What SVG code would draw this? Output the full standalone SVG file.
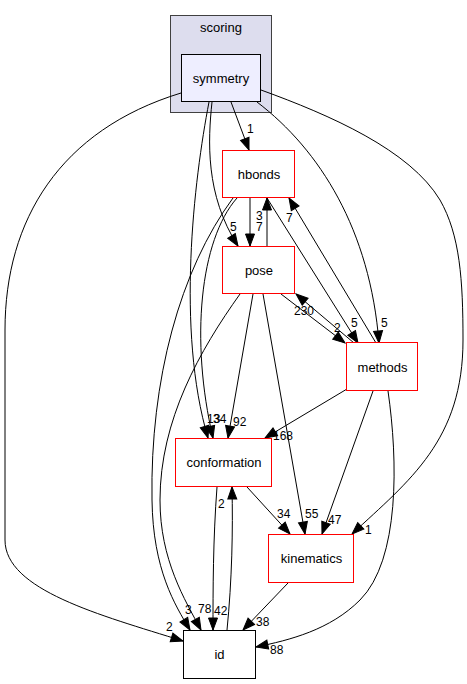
<svg xmlns="http://www.w3.org/2000/svg" width="467" height="684" viewBox="0 0 467 684">
<style>
text{font-family:"Liberation Sans",Arial,sans-serif;fill:#000}
.nl{font-size:13px;text-anchor:middle}
.el{font-size:12px}
.e{fill:none;stroke:#000;stroke-width:1}
.red{fill:#fff;stroke:#ff0000;stroke-width:1}
.blk{fill:#fff;stroke:#000;stroke-width:1}
</style>
<defs>
<marker id="ah" markerUnits="userSpaceOnUse" markerWidth="13" markerHeight="10" refX="12" refY="4.5" orient="auto" overflow="visible">
<path d="M0,0 L12,4.5 L0,9 z" fill="#000" stroke="#000" stroke-width="1"/>
</marker>
</defs>
<g id="cluster_scoring">
<rect x="170.5" y="15.5" width="101" height="97" fill="#ddddee" stroke="#404040" stroke-width="1"/>
<text class="nl" x="221" y="32">scoring</text>
</g>
<g id="edges">
<path class="e" marker-end="url(#ah)" d="M231,102 L249,150"/>
<text class="el" x="247" y="133">1</text>
<path class="e" marker-end="url(#ah)" d="M212,102 C208,140 205,195 238,246"/>
<text class="el" x="230" y="231">5</text>
<path class="e" marker-end="url(#ah)" d="M209,102 C194,180 176,330 208,438"/>
<text class="el" x="207" y="423">13</text>
<path class="e" marker-end="url(#ah)" d="M237,198 C200,240 190,340 213,438"/>
<text class="el" x="213" y="423">34</text>
<path class="e" marker-end="url(#ah)" d="M233,198 C180,270 150,380 152,500 C153,570 175,605 190,630"/>
<text class="el" x="185" y="614">3</text>
<path class="e" marker-end="url(#ah)" d="M240,294 C200,350 160,420 160,500 C160,560 185,600 201,630"/>
<text class="el" x="198" y="613">78</text>
<path class="e" marker-end="url(#ah)" d="M253,294 L228,438"/>
<text class="el" x="233" y="426">92</text>
<path class="e" marker-end="url(#ah)" d="M263,294 L305,534"/>
<text class="el" x="305" y="518">55</text>
<path class="e" marker-end="url(#ah)" d="M281,294 L345,343"/>
<text class="el" x="334" y="332">2</text>
<path class="e" marker-end="url(#ah)" d="M354,343 L296,294"/>
<text class="el" x="294" y="315">230</text>
<path class="e" marker-end="url(#ah)" d="M267,198 L358,343"/>
<text class="el" x="351" y="327">5</text>
<path class="e" marker-end="url(#ah)" d="M376,343 L289,198"/>
<text class="el" x="286" y="222">7</text>
<path class="e" marker-end="url(#ah)" d="M267,246 L267,198"/>
<text class="el" x="256" y="220">3</text>
<path class="e" marker-end="url(#ah)" d="M250,198 L250,246"/>
<text class="el" x="256" y="231">7</text>
<path class="e" marker-end="url(#ah)" d="M257,102 C320,150 370,230 379,343"/>
<text class="el" x="381" y="327">5</text>
<path class="e" marker-end="url(#ah)" d="M261,90 C330,115 410,150 440,200 C460,235 463,280 463,340 C463,440 410,480 352,534"/>
<text class="el" x="365" y="534">1</text>
<path class="e" marker-end="url(#ah)" d="M181,93 C60,130 5,220 5,330 L5,540 C5,590 100,615 183,641"/>
<text class="el" x="166" y="631">2</text>
<path class="e" marker-end="url(#ah)" d="M347,389 L265,438"/>
<text class="el" x="273" y="440">168</text>
<path class="e" marker-end="url(#ah)" d="M373,391 L322,534"/>
<text class="el" x="328" y="524">47</text>
<path class="e" marker-end="url(#ah)" d="M388,391 C398,460 400,560 360,600 C330,630 290,640 256,647"/>
<text class="el" x="270" y="654">88</text>
<path class="e" marker-end="url(#ah)" d="M247,487 L290,534"/>
<text class="el" x="277" y="518">34</text>
<path class="e" marker-end="url(#ah)" d="M217,487 C213,540 213,590 213,630"/>
<text class="el" x="214" y="615">42</text>
<path class="e" marker-end="url(#ah)" d="M227,630 C232,580 233,530 232,487"/>
<text class="el" x="218" y="508">2</text>
<path class="e" marker-end="url(#ah)" d="M288,583 L243,630"/>
<text class="el" x="256" y="626">38</text>
</g>
<g id="node_symmetry">
<rect x="181.5" y="54.5" width="79" height="47" fill="#eeeeff" stroke="#000" stroke-width="1"/>
<text class="nl" x="221" y="82.5">symmetry</text>
</g>
<g id="node_hbonds">
<rect class="red" x="222.5" y="150.5" width="72" height="47"/>
<text class="nl" x="259" y="178.5">hbonds</text>
</g>
<g id="node_pose">
<rect class="red" x="222.5" y="246.5" width="72" height="47"/>
<text class="nl" x="259" y="274.5">pose</text>
</g>
<g id="node_methods">
<rect class="red" x="346.5" y="342.5" width="71" height="48"/>
<text class="nl" x="382.5" y="371.5">methods</text>
</g>
<g id="node_conformation">
<rect class="red" x="175.5" y="438.5" width="96" height="48"/>
<text class="nl" x="224" y="467">conformation</text>
</g>
<g id="node_kinematics">
<rect class="red" x="268.5" y="534.5" width="85" height="48"/>
<text class="nl" x="311.5" y="563">kinematics</text>
</g>
<g id="node_id">
<rect class="blk" x="183.5" y="630.5" width="72" height="48"/>
<text class="nl" x="219.5" y="659">id</text>
</g>
</svg>
